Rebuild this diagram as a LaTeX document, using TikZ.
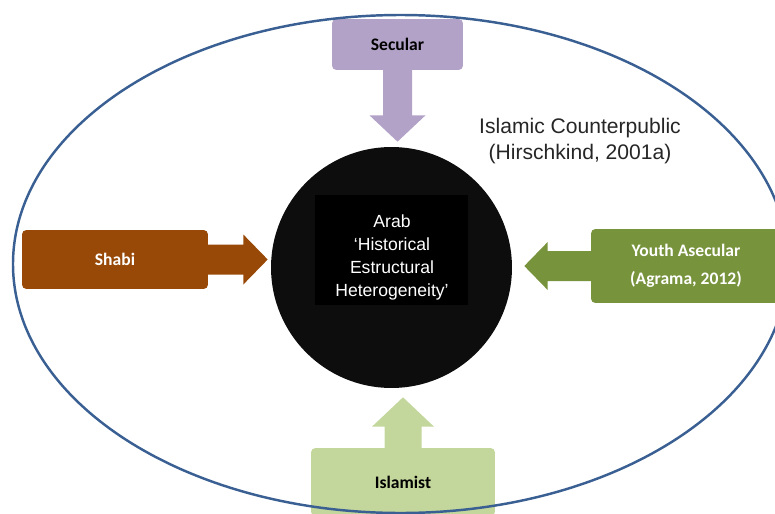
\documentclass[tikz,border=0pt]{standalone}
\usepackage{fontspec}
\setmainfont{Liberation Sans}
\newfontfamily\boxfont{Carlito}
\usepackage{xcolor}
\usepackage{tikz}
\usetikzlibrary{calc,positioning}

\definecolor{ringblue}{HTML}{3A6093}
\definecolor{secularfill}{HTML}{B3A2C7}
\definecolor{shabifill}{HTML}{984807}
\definecolor{youthfill}{HTML}{77933C}
\definecolor{islamistfill}{HTML}{C3D69B}
\definecolor{hubfill}{HTML}{0D0D0D}

\begin{document}
\begin{tikzpicture}[x=0.02cm, y=-0.02cm,
    actor/.style={rounded corners=2.5pt, inner sep=0pt, align=center,
      font=\boxfont\bfseries\fontsize{10}{16}\selectfont}]
  \useasboundingbox (0,0) rectangle (775,514);

  % Central circle
  \node[circle, fill=hubfill, minimum size=4.82cm, inner sep=0pt] (hub) at (391.5,267.5) {};
  \node[fill=black, minimum width=3.06cm, minimum height=2.2cm, inner sep=0pt] (core) at (391.5,250) {};
  \node[white, align=center, font=\fontsize{10}{13}\selectfont] (corelabel) at (392,257.5)
    {Arab\\‘Historical\\Estructural\\Heterogeneity’};

  % Positions around the hub
  \node[actor, fill=secularfill, minimum width=2.62cm, minimum height=1.02cm] (secular) at (397.5,44.5) {Secular};
  \node[actor, fill=shabifill, text=white, minimum width=3.72cm, minimum height=1.18cm] (shabi) at (115,259.5) {Shabi};
  \node[actor, fill=youthfill, text=white, minimum width=3.8cm, minimum height=1.48cm] (youth) at (686,266) {Youth Asecular\\(Agrama, 2012)};
  \node[actor, fill=islamistfill, minimum width=3.68cm, minimum height=1.36cm] (islamist) at (403,482) {Islamist};

  % Block arrows into the hub
  \fill[secularfill] ($(secular.south)+(-14.5,-1)$) -- ++(0,46) -- ++(-13.5,0)
    -- ($(secular.south |- hub.north)+(0,-5)$) -- ($(secular.south)+(28,45)$) -- ++(-13.5,0)
    -- ($(secular.south)+(14.5,-1)$) -- cycle;
  \fill[shabifill] ($(shabi.east)+(-1,-15)$) -- ++(36,0) -- ++(0,-10)
    -- ($(shabi.east -| hub.west)+(-3,0)$) -- ($(shabi.east)+(35,25)$) -- ++(0,-10)
    -- ($(shabi.east)+(-1,15)$) -- cycle;
  \fill[youthfill] ($(youth.west)+(1,-15)$) -- ++(-44,0) -- ++(0,-9)
    -- ($(youth.west -| hub.east)+(12,0)$) -- ($(youth.west)+(-43,24)$) -- ++(0,-9)
    -- ($(youth.west)+(1,15)$) -- cycle;
  \fill[islamistfill] ($(islamist.north)+(-18.5,1)$) -- ++(0,-22) -- ++(-12.5,0)
    -- ($(islamist.north |- hub.south)+(0,9)$) -- ($(islamist.north)+(31,-21)$) -- ++(-12.5,0)
    -- ($(islamist.north)+(18.5,1)$) -- cycle;

  % Counterpublic label
  \node[text=black!85, align=center, font=\fontsize{12}{15.3}\selectfont] (counterpublic) at (580,141)
    {Islamic Counterpublic\\(Hirschkind, 2001a)};

  % Outer ring
  \draw[ringblue, line width=1.4pt] (400.6,264) ellipse [x radius=387.6, y radius=249];
\end{tikzpicture}
\end{document}
